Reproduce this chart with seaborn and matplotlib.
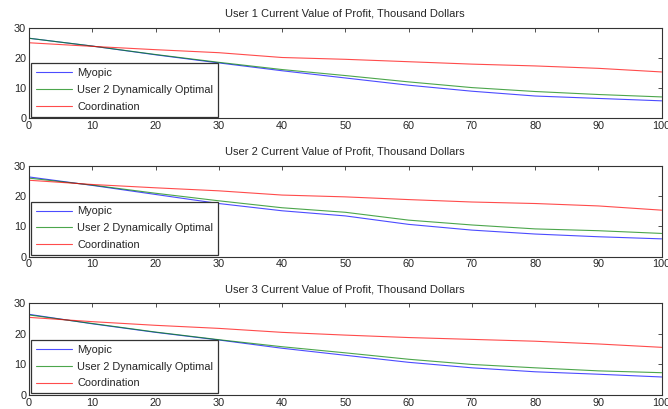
import numpy as np
import pandas as pd
import matplotlib
matplotlib.use("Agg")
import matplotlib.pyplot as plt
import seaborn as sns

# ---- data ----
t = [0, 10, 20, 30, 40, 50, 60, 70, 80, 90, 100]
series_names = ["Myopic", "User 2 Dynamically Optimal", "Coordination"]
titles = ["User 1 Current Value of Profit, Thousand Dollars",
          "User 2 Current Value of Profit, Thousand Dollars",
          "User 3 Current Value of Profit, Thousand Dollars"]

u1_myopic = [26.6, 24.0, 21.1, 18.4, 15.8, 13.4, 11.0, 9.0, 7.4, 6.6, 5.8]
u1_dynopt = [26.6, 24.0, 21.2, 18.6, 16.2, 14.2, 12.1, 10.2, 8.9, 7.9, 7.1]
u1_coord = [25.1, 23.9, 22.8, 21.8, 20.2, 19.6, 18.8, 18.0, 17.4, 16.6, 15.4]

u2_myopic = [26.4, 23.6, 20.6, 17.6, 15.2, 13.5, 10.7, 8.8, 7.5, 6.6, 5.9]
u2_dynopt = [26.0, 23.7, 21.0, 18.5, 16.2, 14.7, 12.1, 10.5, 9.2, 8.6, 7.7]
u2_coord = [25.3, 23.9, 22.8, 21.8, 20.4, 19.8, 18.9, 18.1, 17.6, 16.8, 15.4]

u3_myopic = [26.4, 23.3, 20.5, 18.0, 15.3, 13.0, 10.7, 8.9, 7.6, 6.8, 5.9]
u3_dynopt = [26.2, 23.4, 20.6, 18.1, 15.8, 13.8, 11.7, 10.0, 8.9, 7.9, 7.3]
u3_coord = [25.4, 24.0, 22.8, 21.8, 20.5, 19.6, 18.8, 18.2, 17.6, 16.7, 15.6]

users = [(u1_myopic, u1_dynopt, u1_coord),
         (u2_myopic, u2_dynopt, u2_coord),
         (u3_myopic, u3_dynopt, u3_coord)]

colors = ["#0000ff", "#008000", "#ff0000"]

sns.set_style("white")
plt.rcParams["font.family"] = ["Liberation Sans", "DejaVu Sans"]
plt.rcParams["xtick.direction"] = "in"
plt.rcParams["ytick.direction"] = "in"

fig = plt.figure(figsize=(6.68, 4.09), dpi=100)
positions = [[0.0434, 0.7108, 0.947, 0.2207],
             [0.0434, 0.3724, 0.947, 0.2216],
             [0.0434, 0.0342, 0.947, 0.2242]]

for i, (vals, title) in enumerate(zip(users, titles)):
    ax = fig.add_axes(positions[i])
    rows = []
    for name, v in zip(series_names, vals):
        for x, y in zip(t, v):
            rows.append({"t": x, "value": y, "series": name})
    df = pd.DataFrame(rows)
    sns.lineplot(data=df, x="t", y="value", hue="series",
                 hue_order=series_names, palette=colors, linewidth=0.8,
                 alpha=0.7, ax=ax)
    ax.set_xlim(0, 100)
    ax.set_ylim(0, 30)
    ax.set_xticks(range(0, 101, 10))
    ax.set_yticks([0, 10, 20, 30])
    ax.set_xlabel("")
    ax.set_ylabel("")
    ax.set_title(title, fontsize=8, pad=8)
    ax.tick_params(axis="both", which="both", labelsize=7.8, length=3,
                   width=0.6, top=True, right=True, color="#333333", pad=2)
    for s in ax.spines.values():
        s.set_visible(True)
        s.set_color("#333333")
        s.set_linewidth(0.8)
    leg = ax.legend(loc="lower left", fontsize=7.9, frameon=True,
                    fancybox=False, framealpha=1, edgecolor="#333333",
                    borderaxespad=0.15, handlelength=3.3, handletextpad=0.5,
                    labelspacing=0.62, borderpad=0.45)
    leg.get_frame().set_linewidth(0.9)

fig.savefig("out.png", dpi=100)
